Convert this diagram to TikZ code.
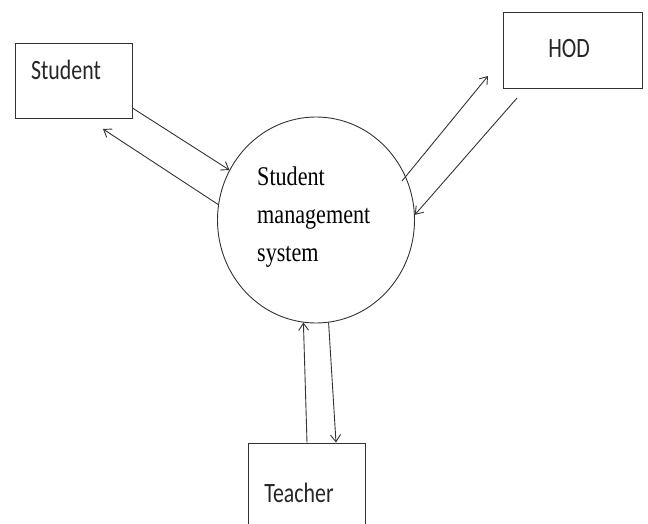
\documentclass[tikz,border=0pt]{standalone}
\usepackage{fontspec}
\setmainfont{Liberation Serif}
\newfontfamily\boxfont[FakeStretch=0.78]{Carlito}
\newfontfamily\sysfont[FakeStretch=0.82]{Liberation Serif}
\usetikzlibrary{shapes.geometric,arrows.meta}

\begin{document}
\begin{tikzpicture}[x=1pt, y=-1pt,
  entity/.style={draw=black!80, line width=0.9pt, inner sep=0pt},
  flow/.style={-{Straight Barb[length=7pt,width=10pt]}, draw=black!80, line width=0.9pt},
  boxlabel/.style={anchor=base, inner sep=0pt, font=\boxfont\fontsize{28}{30}\selectfont, text=black!85}]
\clip (0,0) rectangle (648,524);
% external entities
\node[entity, minimum width=117pt, minimum height=75pt] (student) at (73.5,80.5) {};
\node[entity, minimum width=139pt, minimum height=76pt] (hod) at (572.5,50) {};
\node[entity, minimum width=117pt, minimum height=120pt] (teacher) at (306.5,503) {};
\node[boxlabel] (studentlbl) at (66,80) {Student};
\node[boxlabel] (hodlbl) at (569,58) {HOD};
\node[boxlabel] (teacherlbl) at (299,502) {Teacher};
% process
\node[entity, ellipse, minimum width=197pt, minimum height=206pt] (sms) at (316,220) {};
\node[anchor=west, inner sep=0pt, align=left, text=black,
  font=\sysfont\fontsize{27}{38}\selectfont] (smslbl) at (257,217) {Student\\management\\system};
% free ends
\coordinate (stuin) at (103,129);
\coordinate (hodout) at (402,181);
\coordinate (hodin) at (488,76);
\coordinate (hodsrc) at (517,98);
% data flows
\draw[flow] ([yshift=-27.5pt]student.east) -- (sms.150);
\draw[flow] (sms.171) -- (stuin);
\draw[flow] (hodout) -- (hodin);
\draw[flow] (hodsrc) -- (sms.3);
\draw[flow] ([xshift=0.5pt]teacher.north) -- (sms.263);
\draw[flow] (sms.277) -- ([xshift=29.5pt]teacher.north);
\end{tikzpicture}
\end{document}
